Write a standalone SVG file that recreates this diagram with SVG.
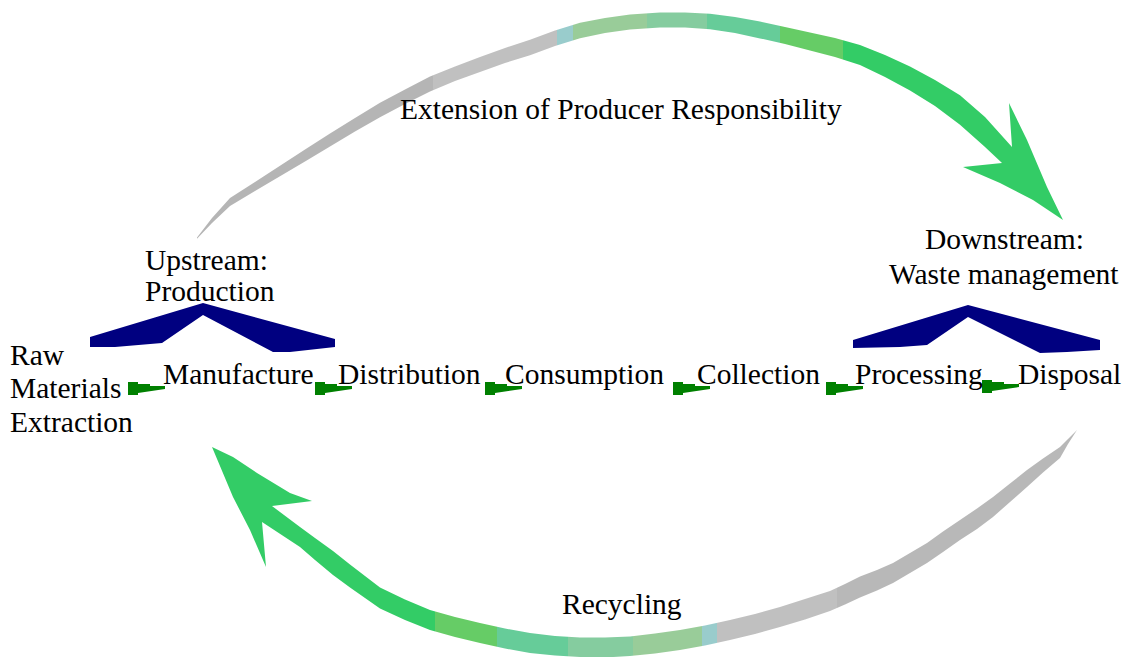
<svg xmlns="http://www.w3.org/2000/svg" width="1124" height="657" viewBox="0 0 1124 657">
<style>
text{font-family:"Liberation Serif","Times New Roman","DejaVu Serif",serif;font-size:29.5px;fill:#000}
.chev{fill:#000080}
.ga{fill:#008000}
</style>
<defs>
<linearGradient id="gTop" gradientUnits="userSpaceOnUse" x1="190" y1="0" x2="1070" y2="0">
<stop offset="0" stop-color="#b5b5b5"/><stop offset="0.2761" stop-color="#b5b5b5"/>
<stop offset="0.2761" stop-color="#c0c0c0"/><stop offset="0.4170" stop-color="#c0c0c0"/>
<stop offset="0.4170" stop-color="#99cccc"/><stop offset="0.4352" stop-color="#99cccc"/>
<stop offset="0.4352" stop-color="#99cc99"/><stop offset="0.5193" stop-color="#99cc99"/>
<stop offset="0.5193" stop-color="#85cc9f"/><stop offset="0.5875" stop-color="#85cc9f"/>
<stop offset="0.5875" stop-color="#66cc99"/><stop offset="0.6705" stop-color="#66cc99"/>
<stop offset="0.6705" stop-color="#66cc66"/><stop offset="0.7420" stop-color="#66cc66"/>
<stop offset="0.7420" stop-color="#33cc66"/><stop offset="1" stop-color="#33cc66"/>
</linearGradient>
<linearGradient id="gBot" gradientUnits="userSpaceOnUse" x1="200" y1="0" x2="1080" y2="0">
<stop offset="0" stop-color="#33cc66"/><stop offset="0.2670" stop-color="#33cc66"/>
<stop offset="0.2670" stop-color="#66cc66"/><stop offset="0.3375" stop-color="#66cc66"/>
<stop offset="0.3375" stop-color="#66cc99"/><stop offset="0.4182" stop-color="#66cc99"/>
<stop offset="0.4182" stop-color="#85cc9f"/><stop offset="0.4920" stop-color="#85cc9f"/>
<stop offset="0.4920" stop-color="#99cc99"/><stop offset="0.5705" stop-color="#99cc99"/>
<stop offset="0.5705" stop-color="#99cccc"/><stop offset="0.5875" stop-color="#99cccc"/>
<stop offset="0.5875" stop-color="#c0c0c0"/><stop offset="0.7239" stop-color="#c0c0c0"/>
<stop offset="0.7239" stop-color="#b8b8b8"/><stop offset="1" stop-color="#b8b8b8"/>
</linearGradient>
<path id="ga" d="M0,0 H10 V2 H22 V4 H37 V7 L10,11 V13 H0 Z"/>
</defs>
<rect width="1124" height="657" fill="#fff"/>

<g id="connectors">
<g id="epr-arc">
<polygon fill="url(#gTop)" points="197,237.5 212,218 230,198 255,182 280,165.7 305,149.6 330,133.6 355,118 380,102.8 405,89.5 430,76.6 455,66.5 480,57.1 505,48 530,39.8 555,30.5 580,22.8 605,18 630,14.5 660,12.5 685,12.5 710,13.8 735,17 760,21.6 785,27 810,32.5 835,38 860,44.9 885,55 910,66.5 935,80 960,95.3 985,117 1012,147 1009,103 1027,140 1047,187 1063,220 1033,200 1000,183 963,167 1002,163 985,147 960,124.7 935,106 910,90.5 885,77 860,65.1 835,57 810,50.5 785,44 760,38.4 735,33 710,29.3 685,27.5 660,27.5 630,29.5 605,33 580,38.2 555,46 530,55.2 505,63 480,71.9 455,81 430,91.4 405,104 380,117.2 355,131.5 330,146.4 305,161.4 280,176.3 255,191 230,205.9 212,223 197,238.7"/>
</g>
<g id="recycling-arc">
<polygon fill="url(#gBot)" points="1077,430 1068,444 1060,458 1043,472.5 1027,487 1010,502 993,517 977,529 960,540 943,552 927,563 910,573 893,583 877,590.5 860,597.5 845,604.5 830,611 805,619.5 780,627 755,634 730,640 705,645.5 680,650 655,653.5 630,656 605,657.5 580,657 555,655.5 530,653 505,648.5 480,643 455,637 430,630 405,620 380,608.5 365,598 350,587.5 333,575 315,560 300,547 262,522 266,567 250,530 233,497 212,447 233,457 257,473 290,493 312,501 272,506 300,527 315,538 333,551 350,564.5 365,576 380,587.5 405,599.5 430,610 455,617 480,623 505,628.5 530,633 555,636 580,637.5 605,637.5 630,636.5 655,633.5 680,630 705,625.5 730,620 755,614 780,607 805,599 830,591 845,584 860,576.5 877,570 893,563 910,553 927,543 943,531.5 960,520 977,508.5 993,497 1010,483.5 1027,470 1043,458.5 1060,447 1068,439"/>
</g>
<use href="#ga" class="ga" x="128" y="382"/>
<use href="#ga" class="ga" x="315" y="382"/>
<use href="#ga" class="ga" x="485" y="382"/>
<use href="#ga" class="ga" x="673" y="382"/>
<use href="#ga" class="ga" x="826" y="382"/>
<use href="#ga" class="ga" x="982" y="380"/>
</g>

<g id="epr-label"><text x="400" y="119">Extension of Producer Responsibility</text></g>
<g id="recycling-label"><text x="562" y="614">Recycling</text></g>

<g id="upstream">
<polygon class="chev" points="90,337 203,303 335,339 335,347 290,352 273,352 203,315 162,343 115,347 90,347"/>
<text x="145" y="270">Upstream:</text>
<text x="145" y="301">Production</text>
</g>
<g id="downstream">
<polygon class="chev" points="853,340 968,305 1100,340 1100,350 1067,352 1040,353 968,317 927,345 900,347 853,348"/>
<text x="925" y="249">Downstream:</text>
<text x="889" y="284">Waste management</text>
</g>

<g id="raw-materials">
<text x="10" y="365">Raw</text>
<text x="10" y="398">Materials</text>
<text x="10" y="432">Extraction</text>
</g>
<g id="manufacture"><text x="163" y="384">Manufacture</text></g>
<g id="distribution"><text x="338" y="384">Distribution</text></g>
<g id="consumption"><text x="505" y="384">Consumption</text></g>
<g id="collection"><text x="697" y="384">Collection</text></g>
<g id="processing"><text x="855" y="384">Processing</text></g>
<g id="disposal"><text x="1018" y="384">Disposal</text></g>
</svg>
